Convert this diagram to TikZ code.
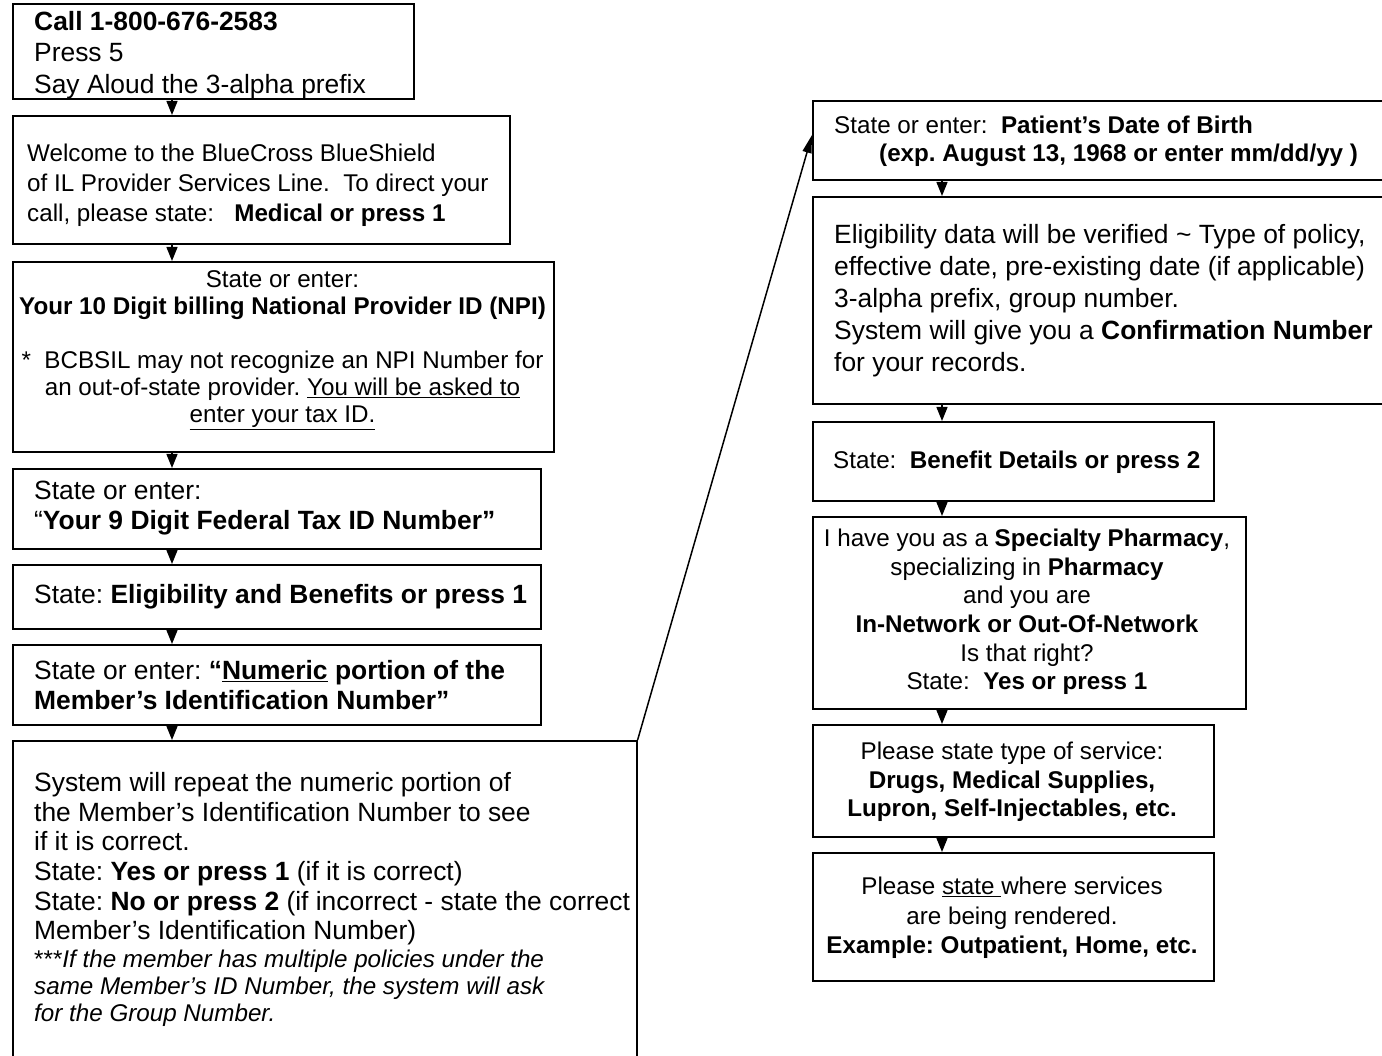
\documentclass[tikz,border=0pt]{standalone}
\usepackage{fontspec}
\setmainfont{Liberation Sans}
\usetikzlibrary{arrows.meta}
\frenchspacing
\begin{document}
\begin{tikzpicture}[x=1pt,y=-1pt,
  box/.style={draw, line width=1.6pt, inner sep=0pt, anchor=north west},
  lt/.style={inner sep=0pt, align=left, anchor=west},
  ct/.style={inner sep=0pt, align=center},
  dn/.style={line width=1.3pt, -{Triangle[length=14pt,width=11pt]}},
  jump/.style={line width=1.5pt, -{Triangle[length=18pt,width=9pt]}}]
\clip (0,0) rectangle (1382,1056);
\coordinate (lx) at (172,0);
\coordinate (rx) at (942,0);
% boxes
\node[box, minimum width=401pt, minimum height=95pt]  (b1)  at (12,3) {};
\node[box, minimum width=497pt, minimum height=128pt] (b2)  at (12,115) {};
\node[box, minimum width=541pt, minimum height=190pt] (b3)  at (12,261) {};
\node[box, minimum width=528pt, minimum height=80pt]  (b4)  at (12,468) {};
\node[box, minimum width=528pt, minimum height=64pt]  (b5)  at (12,564) {};
\node[box, minimum width=528pt, minimum height=80pt]  (b6)  at (12,644) {};
\node[box, minimum width=624pt, minimum height=340pt] (b7)  at (12,740) {};
\node[box, minimum width=600pt, minimum height=79pt]  (b8)  at (812,100) {};
\node[box, minimum width=600pt, minimum height=207pt] (b9)  at (812,196) {};
\node[box, minimum width=401pt, minimum height=79pt]  (b10) at (812,421) {};
\node[box, minimum width=433pt, minimum height=192pt] (b11) at (812,516) {};
\node[box, minimum width=401pt, minimum height=112pt] (b12) at (812,724) {};
\node[box, minimum width=401pt, minimum height=128pt] (b13) at (812,852) {};
% texts
\node[lt, font=\fontsize{26.4}{31.5}\selectfont] (t1) at (34,55) {\textbf{Call 1-800-676-2583}\\Press 5\\Say Aloud the 3-alpha prefix};
\node[lt, font=\fontsize{24.2}{30}\selectfont] (t2) at (27,185) {Welcome to the BlueCross BlueShield\\of IL Provider Services Line.\ \ To direct your\\call, please state:\ \ \ \textbf{Medical or press 1}};
\node[ct, font=\fontsize{24.2}{27}\selectfont] (t3) at (282.5,350) {State or enter:\\\textbf{Your 10 Digit billing National Provider ID (NPI)}\\[27pt]*\ \ BCBSIL may not recognize an NPI Number for\\an out-of-state provider. \underline{You will be asked to}\\\underline{enter your tax ID.}};
\node[lt, font=\fontsize{26.4}{30}\selectfont] (t4) at (34,508) {State or enter:\\“\textbf{Your 9 Digit Federal Tax ID Number”}};
\node[lt, font=\fontsize{26.4}{30}\selectfont] (t5) at (34,597) {State: \textbf{Eligibility and Benefits or press 1}};
\node[lt, font=\fontsize{26.4}{30}\selectfont] (t6) at (34,685) {State or enter: \textbf{“\underline{Numeric} portion of the}\\\textbf{Member’s Identification Number”}};
\node[inner sep=0pt, align=left, anchor=north west, font=\fontsize{26.4}{29.7}\selectfont] (t7a) at (34,772) {System will repeat the numeric portion of\\the Member’s Identification Number to see\\if it is correct.\\State: \textbf{Yes or press 1} (if it is correct)\\State: \textbf{No or press 2} (if incorrect - state the correct\\Member’s Identification Number)};
\node[inner sep=0pt, align=left, anchor=north west, font=\fontsize{24.2}{27}\selectfont\itshape] (t7b) at (34,950) {\textup{***}If the member has multiple policies under the\\same Member’s ID Number, the system will ask\\for the Group Number.};
\node[lt, font=\fontsize{24.2}{28}\selectfont] (t8) at (834,141) {State or enter:\ \ \textbf{Patient’s Date of Birth}\\\hspace*{45pt}\textbf{(exp. August 13, 1968 or enter mm/dd/yy )}};
\node[lt, font=\fontsize{26.4}{32}\selectfont] (t9) at (834,301) {Eligibility data will be verified \textasciitilde{} Type of policy,\\effective date, pre-existing date (if applicable)\\3-alpha prefix, group number.\\System will give you a \textbf{Confirmation Number}\\for your records.};
\node[lt, font=\fontsize{24.2}{28}\selectfont] (t10) at (833,462) {State:\ \ \textbf{Benefit Details or press 2}};
\node[ct, font=\fontsize{24.2}{28.6}\selectfont] (t11) at (1027,612) {I have you as a \textbf{Specialty Pharmacy},\\specializing in \textbf{Pharmacy}\\and you are\\\textbf{In-Network or Out-Of-Network}\\Is that right?\\State:\ \ \textbf{Yes or press 1}};
\node[ct, font=\fontsize{24.2}{28.5}\selectfont] (t12) at (1012,782) {Please state type of service:\\\textbf{Drugs, Medical Supplies,}\\\textbf{Lupron, Self-Injectables, etc.}};
\node[ct, font=\fontsize{24.2}{29.5}\selectfont] (t13) at (1012,918) {Please \underline{state\ }where services\\are being rendered.\\\textbf{Example: Outpatient, Home, etc.}};
% connectors
\foreach \a/\b in {b1/b2,b2/b3,b3/b4,b4/b5,b5/b6,b6/b7}
  \draw[dn] (\a.south -| lx) -- (\b.north -| lx);
\foreach \a/\b in {b8/b9,b9/b10,b10/b11,b11/b12,b12/b13}
  \draw[dn] (\a.south -| rx) -- (\b.north -| rx);
\coordinate (p8) at (812,135);
\draw[jump] (b7.north east) -- (p8);
\end{tikzpicture}
\end{document}
